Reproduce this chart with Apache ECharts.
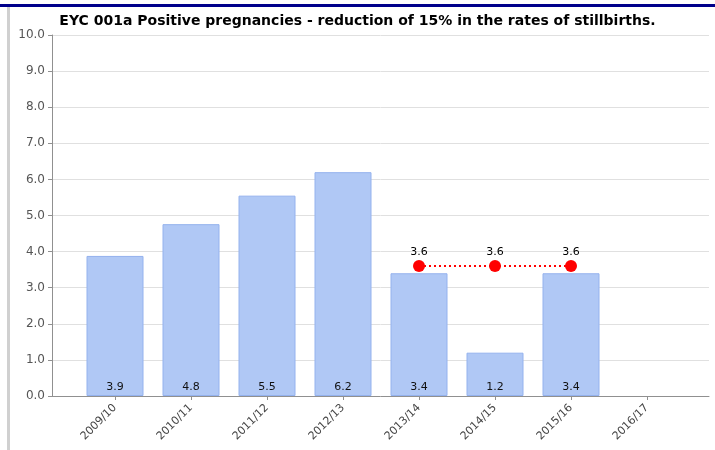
<!DOCTYPE html>
<html>
<head>
<meta charset="utf-8">
<script src="https://cdn.jsdelivr.net/npm/echarts@6/dist/echarts.min.js"></script>
<style>
  html, body { margin: 0; padding: 0; background: #fff; }
  #main { width: 715px; height: 450px; }
</style>
</head>
<body>
<div id="main"></div>
<script>
const titleText = 'EYC 001a Positive pregnancies - reduction of 15% in the rates of stillbirths.'
const years = ['2009/10', '2010/11', '2011/12', '2012/13', '2013/14', '2014/15', '2015/16', '2016/17']
const rates = [3.88, 4.76, 5.55, 6.2, 3.4, 1.2, 3.4, null]
const target = [null, null, null, null, 3.6, 3.6, 3.6, null]
const yTicks = [0, 10, 1]

const myChart = echarts.init(document.getElementById('main'))
const font = 'Tahoma, "DejaVu Sans", sans-serif'

myChart.setOption({
  animation: false,
  title: {
    text: titleText,
    left: 'center',
    top: 9,
    textStyle: { fontFamily: font, fontSize: 14, fontWeight: 'bold', color: '#000' },
  },
  graphic: [
    { type: 'rect', shape: { x: 0, y: 4, width: 715, height: 3 }, style: { fill: '#00008b' } },
    { type: 'rect', shape: { x: 7, y: 7, width: 3, height: 443 }, style: { fill: '#d0d0d0' } },
  ],
  grid: [
    // background grid: y axis, gridlines, x axis line
    { left: 52, right: 6, top: 35, bottom: 54 },
    // bars grid
    { left: 77, right: 30, top: 35, bottom: 54 },
  ],
  xAxis: [
    {
      gridIndex: 0,
      type: 'value',
      min: 0,
      max: 1,
      axisLine: { show: true, lineStyle: { color: '#909090' } },
      axisTick: { show: false },
      axisLabel: { show: false },
      splitLine: { show: false },
    },
    {
      gridIndex: 1,
      type: 'category',
      data: years,
      axisLine: { show: false },
      axisTick: { show: true, alignWithLabel: true, length: 4, lineStyle: { color: '#909090' } },
      axisLabel: { rotate: 45, fontFamily: font, fontSize: 11, color: '#444', margin: 10 },
      splitLine: { show: false },
    },
  ],
  yAxis: [
    {
      gridIndex: 0,
      type: 'value',
      min: yTicks[0],
      max: yTicks[1],
      interval: yTicks[2],
      axisLine: { show: true, lineStyle: { color: '#909090' } },
      axisTick: { show: true, length: 4, lineStyle: { color: '#909090' } },
      axisLabel: {
        formatter: (v) => v.toFixed(1),
        fontFamily: font,
        fontSize: 12,
        color: '#555',
        margin: 7,
      },
      splitLine: { lineStyle: { color: '#e0e0e0', width: 1 } },
    },
    {
      gridIndex: 1,
      type: 'value',
      min: yTicks[0],
      max: yTicks[1],
      show: false,
      splitLine: { show: false },
    },
  ],
  series: [
    {
      name: 'Rate',
      type: 'bar',
      xAxisIndex: 1,
      yAxisIndex: 1,
      barWidth: 57,
      data: rates,
      itemStyle: { color: '#b0c8f5', borderColor: '#94b2ee', borderWidth: 1 },
      label: {
        show: true,
        position: 'insideBottom',
        distance: 3,
        formatter: (p) => p.value.toFixed(1),
        fontFamily: font,
        fontSize: 11,
        color: '#111',
      },
    },
    {
      name: 'Target',
      type: 'line',
      xAxisIndex: 1,
      yAxisIndex: 1,
      data: target,
      symbol: 'circle',
      symbolSize: 12,
      itemStyle: { color: '#ff0000' },
      lineStyle: { color: '#ff0000', width: 2, type: [2, 3] },
      label: {
        show: true,
        position: 'top',
        distance: 2,
        formatter: (p) => p.value.toFixed(1),
        fontFamily: font,
        fontSize: 11,
        color: '#000',
      },
    },
  ],
})
</script>
</body>
</html>
